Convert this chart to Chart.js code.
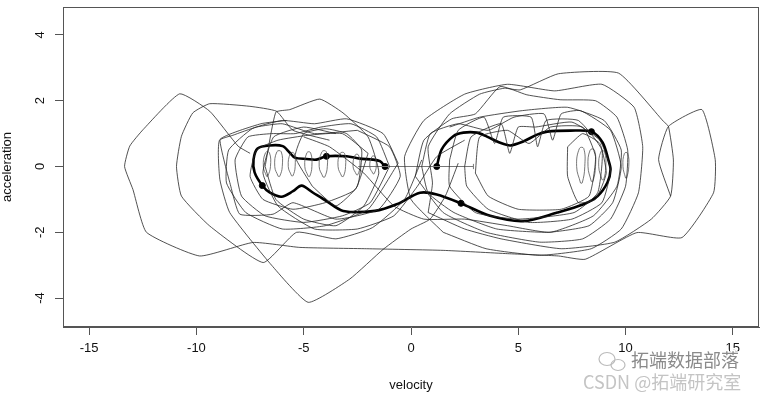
<!DOCTYPE html>
<html>
<head>
<meta charset="utf-8">
<script src="https://cdn.jsdelivr.net/npm/chart.js@4.4.0/dist/chart.umd.min.js"></script>
<style>
  html, body { margin: 0; padding: 0; background: #fff; }
  #wrap { width: 768px; height: 399px; }
</style>
</head>
<body>
<div id="wrap"><canvas id="phase" width="768" height="399"></canvas></div>
<script>
// axis ticks
const xTicks = [-15, -10, -5, 0, 5, 10, 15];
const yTicks = [-4, -2, 0, 2, 4];

// thin trajectories (velocity, acceleration)
const outerLeft = [[-7.5,0.4],[-8.06,0.62],[-9.38,1.68],[-10.78,2.21],[-12.49,1.12],[-13.11,0.62],[-13.35,0.0],[-12.96,-0.7],[-12.33,-2.0],[-9.85,-2.72],[-7.36,-2.31],[-5.18,-2.46],[-2.07,-2.5],[1.5,-2.55],[4.5,-2.65],[6.87,-2.72],[8.12,-2.82],[10.53,-2.01],[12.63,-2.16],[14.1,-0.8],[14.18,0.21],[13.56,1.73],[12.0,1.22],[11.54,0.21],[12.1,-0.9]];
const outerRight = [[0.8,-1.4],[1.0,-0.5],[0.8,0.6],[1.8,1.6],[3.2,2.2],[4.35,2.38],[5.09,2.33],[6.87,2.82],[9.67,2.84],[11.77,1.37],[12.0,1.22],[12.23,0.2],[12.1,-0.9],[11.2,-1.6],[9.5,-2.3],[7.0,-2.5],[4.2,-2.2],[2.5,-1.9],[0.8,-1.4]];
const secondLeft = [[-3.8,0.8],[-5.5,1.1],[-6.27,1.68],[-7.51,1.83],[-9.38,1.91],[-10.17,1.63],[-10.7,0.92],[-10.93,0.0],[-10.7,-0.9],[-9.38,-1.81],[-6.89,-2.92],[-5.33,-2.0],[-3.5,-2.2],[-1.8,-1.86],[-0.3,-1.0],[0.5,0.2]];
const heart = [[-5.8,1.4],[-7.0,1.3],[-8.91,0.82],[-8.91,-0.39],[-8.45,-1.4],[-6.5,-3.0],[-4.79,-4.13],[-2.85,-3.42],[-1.3,-2.52],[0.0,-1.9],[0.89,-1.6],[1.6,-0.9],[2.2,0.1]];
const boxLeft = [[-2.5,1.1],[-4.5,1.0],[-6.0,1.3],[-7.2,1.2],[-8.3,0.95],[-8.9,0.8],[-8.4,-0.6],[-7.98,-1.45],[-6.43,-1.45],[-5.5,-1.1],[-3.5,-1.6],[-1.5,-1.3],[-0.5,-0.3],[-1.0,0.6],[-2.5,1.1]];
const tallLeft = [[-6.8,0.0],[-6.3,1.65],[-5.65,1.73],[-4.25,2.05],[-3.17,1.63],[-2.0,0.9],[-1.5,-0.2],[-2.2,-1.2],[-3.5,-1.8],[-5.0,-1.6],[-6.3,-1.0],[-6.8,0.0]];
const midLeftA = [[-1.0,0.0],[-1.6,0.9],[-2.8,1.3],[-4.2,1.2],[-5.4,1.0],[-6.5,1.0],[-7.6,0.9],[-8.2,0.2],[-7.9,-0.9],[-6.8,-1.5],[-5.0,-1.7],[-3.2,-1.5],[-1.9,-1.1],[-1.0,0.0]];
const midLeftB = [[-0.6,0.1],[-1.3,1.0],[-3.0,1.45],[-4.5,1.3],[-6.0,1.4],[-7.4,1.15],[-8.5,0.5],[-8.6,-0.5],[-7.7,-1.4],[-6.0,-1.9],[-4.0,-1.8],[-2.0,-1.3],[-0.6,0.1]];
const innerLeftA = [[-2.0,0.4],[-3.2,1.0],[-4.8,0.95],[-6.2,0.8],[-7.2,0.5],[-7.5,-0.3],[-6.9,-1.0],[-5.5,-1.3],[-4.0,-1.1],[-2.6,-0.7],[-2.0,0.4]];
const innerLeftB = [[-4.6,-0.6],[-5.4,0.3],[-5.0,1.0],[-4.0,1.15],[-3.0,1.0],[-2.3,0.5],[-2.5,-0.6],[-3.5,-1.2],[-4.6,-0.6]];
const crossA = [[-5.0,0.9],[-3.8,0.6],[-2.2,-0.2],[-0.8,-1.2],[0.6,-1.6],[2.5,-1.6],[4.5,-1.8],[6.5,-2.0],[8.5,-1.5],[9.6,-0.6],[9.8,0.5],[9.0,1.4],[7.3,1.8],[5.2,1.7],[3.2,1.5],[1.8,1.2]];
const crossB = [[2.5,0.8],[1.2,0.3],[0.3,-0.6],[-0.8,-1.5],[-2.5,-1.9],[-4.5,-1.9],[-6.2,-1.2],[-6.9,-0.2],[-6.4,0.9],[-5.0,1.2],[-3.5,1.0]];
const rightA = [[0.2,-0.3],[0.6,0.8],[1.9,1.45],[3.0,1.6],[4.15,2.43],[5.4,2.18],[6.95,2.03],[8.6,2.0],[9.6,1.5],[10.1,0.5],[10.0,-0.6],[9.3,-1.6],[8.0,-2.2],[6.0,-2.3],[3.5,-2.0],[1.5,-1.4],[0.2,-0.3]];
const rightB = [[0.5,0.0],[0.9,1.0],[2.2,1.3],[3.6,1.1],[4.8,1.5],[6.2,1.6],[6.6,0.8],[7.0,1.6],[7.9,1.7],[9.3,1.1],[9.8,0.0],[9.4,-1.1],[8.3,-1.8],[6.4,-2.0],[4.0,-1.9],[2.0,-1.4],[0.8,-0.8],[0.5,0.0]];
const rightC = [[2.5,0.0],[2.8,0.9],[4.2,1.3],[4.6,0.4],[5.0,1.2],[5.8,1.2],[7.5,1.35],[8.8,0.8],[9.3,-0.1],[8.9,-1.1],[7.5,-1.6],[5.5,-1.7],[3.6,-1.3],[2.6,-0.6],[2.5,0.0]];
const rightD = [[1.5,-2.0],[0.0,-1.0],[-0.3,0.3],[0.6,1.4],[2.5,2.2],[4.5,2.5],[6.7,2.3],[8.9,2.5],[10.4,1.8],[10.8,0.6],[10.6,-0.8],[9.8,-1.9],[8.4,-2.5],[6.0,-2.7],[3.5,-2.5],[1.5,-2.0]];
const rightE = [[7.3,0.6],[8.0,1.0],[8.8,0.7],[9.1,-0.2],[8.6,-1.0],[7.8,-1.1],[7.3,-0.3],[7.3,0.6]];
const rightF = [[1.8,0.2],[2.2,1.1],[3.4,1.5],[3.9,0.7],[4.3,1.5],[5.6,1.5],[5.9,0.6],[6.3,1.4],[7.8,1.4],[8.9,0.5],[8.7,-0.8],[7.6,-1.4],[5.0,-1.6],[3.0,-1.4],[1.8,-0.6],[1.8,0.2]];
const rightG = [[3.0,-0.2],[3.2,0.9],[4.5,1.1],[5.5,0.7],[6.5,1.2],[8.0,1.2],[8.6,0.3],[8.3,-0.9],[7.0,-1.3],[5.0,-1.3],[3.6,-0.9],[3.0,-0.2]];

// narrow loops in the two lobes
const smallLoops = [
  [[-6.73,-0.3],[-6.88,0.0],[-6.78,0.42],[-6.6,0.42],[-6.55,0.0],[-6.68,-0.3]],
  [[-6.19,-0.3],[-6.35,0.0],[-6.25,0.45],[-6.05,0.45],[-6.0,0.0],[-6.12,-0.3]],
  [[-5.57,-0.28],[-5.72,0.0],[-5.62,0.4],[-5.45,0.4],[-5.4,0.0],[-5.5,-0.28]],
  [[-4.79,-0.3],[-4.95,0.0],[-4.85,0.42],[-4.68,0.42],[-4.62,0.0],[-4.72,-0.3]],
  [[-4.1,-0.32],[-4.28,0.0],[-4.15,0.45],[-3.95,0.45],[-3.9,0.0],[-4.02,-0.32]],
  [[-3.23,-0.3],[-3.4,0.0],[-3.3,0.4],[-3.1,0.4],[-3.05,0.0],[-3.15,-0.3]],
  [[-2.54,-0.25],[-2.7,0.0],[-2.6,0.35],[-2.45,0.35],[-2.38,0.0],[-2.48,-0.25]],
  [[-1.77,-0.22],[-1.92,0.0],[-1.82,0.3],[-1.68,0.3],[-1.62,0.0],[-1.72,-0.22]],
  [[7.9,-0.5],[7.72,0.0],[7.85,0.55],[8.05,0.55],[8.1,0.0],[7.98,-0.5]],
  [[8.4,-0.45],[8.25,0.0],[8.35,0.5],[8.55,0.5],[8.6,0.0],[8.48,-0.45]],
  [[8.9,-0.4],[8.75,0.0],[8.85,0.45],[9.02,0.45],[9.08,0.0],[8.98,-0.4]],
  [[10.0,-0.35],[9.88,0.0],[9.95,0.4],[10.1,0.4],[10.15,0.0],[10.05,-0.35]]
];

// straight segment through the origin
const baseLine = [[-2.46,0.0],[2.91,0.0]];
const baseTick = [[2.91,-0.08],[2.91,0.08]];

// mean trajectory (thick) and its marked points
const meanPath = [[1.2,0.0],[1.43,0.52],[1.97,0.92],[2.44,1.03],[3.07,1.03],[3.54,0.91],[4.16,0.72],[4.63,0.64],[5.23,0.76],[5.88,0.97],[6.35,1.06],[7.43,1.09],[8.41,1.06],[8.93,0.73],[9.2,0.2],[9.3,-0.09],[9.16,-0.48],[8.7,-0.9],[8.04,-1.15],[6.82,-1.4],[5.24,-1.66],[3.69,-1.5],[2.33,-1.12],[1.2,-0.85],[0.42,-0.8],[-0.67,-1.15],[-1.68,-1.35],[-3.16,-1.35],[-3.94,-1.05],[-4.58,-0.79],[-5.1,-0.58],[-5.5,-0.75],[-6.04,-0.92],[-6.59,-0.79],[-6.93,-0.58],[-7.29,-0.18],[-7.34,0.21],[-7.15,0.55],[-6.59,0.64],[-5.98,0.62],[-5.65,0.42],[-5.42,0.27],[-4.87,0.23],[-4.41,0.21],[-3.94,0.31],[-3.0,0.31],[-2.38,0.24],[-1.77,0.21],[-1.45,0.16],[-1.21,0.0]];
const meanDots = [[1.2,0.0],[8.41,1.06],[2.33,-1.12],[-6.93,-0.58],[-3.94,0.31],[-1.21,0.0]];

const toXY = pts => pts.map(([x, y]) => ({ x, y }));

const thinCurves = [outerLeft, outerRight, secondLeft, heart, boxLeft, tallLeft, midLeftA, midLeftB,
  innerLeftA, innerLeftB, crossA, crossB, rightA, rightB, rightC, rightD, rightE, rightF, rightG];

const datasets = [];
thinCurves.forEach(c => datasets.push({
  data: toXY(c), borderColor: "#262626", borderWidth: 0.8, pointRadius: 0, tension: 0.15, showLine: true
}));
smallLoops.forEach(c => datasets.push({
  data: toXY(c.concat([c[0]])), borderColor: "#555", borderWidth: 0.8, pointRadius: 0, tension: 0.45, showLine: true
}));
datasets.push({ data: toXY(baseLine), borderColor: "#777", borderWidth: 1, pointRadius: 0, showLine: true });
datasets.push({ data: toXY(baseTick), borderColor: "#777", borderWidth: 1, pointRadius: 0, showLine: true });
datasets.push({ data: toXY(meanPath), borderColor: "#000", borderWidth: 2.6, pointRadius: 0, tension: 0.3, showLine: true });
datasets.push({ data: toXY(meanDots), borderColor: "#000", backgroundColor: "#000", pointRadius: 3, showLine: false });

const FONT = "'Liberation Sans', Arial, sans-serif";

const frameAndMark = {
  id: "frameAndMark",
  afterDraw(chart) {
    const { ctx, chartArea: a } = chart;
    ctx.save();
    ctx.strokeStyle = "#555";
    ctx.lineWidth = 1;
    ctx.strokeRect(a.left + 0.5, a.top + 0.5, a.right - a.left - 1, a.bottom - a.top - 1);

    // watermark
    ctx.strokeStyle = "#bbb";
    ctx.lineWidth = 1.2;
    ctx.beginPath(); ctx.ellipse(607, 359, 8, 6.5, 0, 0, Math.PI * 2); ctx.stroke();
    ctx.beginPath(); ctx.ellipse(618, 365, 7, 5.5, 0, 0, Math.PI * 2); ctx.stroke();
    ctx.font = "18px 'Noto Sans CJK SC', sans-serif";
    ctx.textBaseline = "middle";
    ctx.textAlign = "left";
    ctx.lineWidth = 3;
    ctx.strokeStyle = "#fff";
    ctx.strokeText("拓端数据部落", 631, 360);
    ctx.fillStyle = "#8a8a8a";
    ctx.fillText("拓端数据部落", 631, 360);
    ctx.fillStyle = "#c4c4c4";
    ctx.fillText("CSDN @拓端研究室", 583, 382);
    ctx.restore();
  }
};

const noEdgePad = s => { s.paddingTop = 0; s.paddingBottom = 0; s.paddingLeft = 0; s.paddingRight = 0; };

new Chart(document.getElementById("phase"), {
  type: "scatter",
  data: { datasets },
  options: {
    responsive: false,
    animation: false,
    devicePixelRatio: 1,
    layout: { padding: { top: 7, right: 9, left: 0, bottom: 0 } },
    plugins: { legend: { display: false }, tooltip: { enabled: false } },
    scales: {
      x: {
        type: "linear", min: -16.22, max: 16.22,
        afterBuildTicks: s => { s.ticks = xTicks.map(v => ({ value: v })); },
        afterFit: s => { s.height = 72; noEdgePad(s); },
        grid: { drawOnChartArea: false, drawTicks: true, tickLength: 8, color: "#555" },
        border: { display: true, color: "#555" },
        ticks: { color: "#111", font: { family: FONT, size: 13 }, padding: 6, maxRotation: 0 },
        title: { display: true, text: "velocity", color: "#111", font: { family: FONT, size: 13 }, padding: { top: 0, bottom: 6 } }
      },
      y: {
        type: "linear", min: -4.88, max: 4.85,
        afterBuildTicks: s => { s.ticks = yTicks.map(v => ({ value: v })); },
        afterFit: s => { s.width = 63; noEdgePad(s); },
        grid: { drawOnChartArea: false, drawTicks: true, tickLength: 8, color: "#555" },
        border: { display: true, color: "#555" },
        ticks: { color: "#111", font: { family: FONT, size: 13 }, padding: 9, minRotation: 90, maxRotation: 90, crossAlign: "center" },
        title: { display: true, text: "acceleration", color: "#111", font: { family: FONT, size: 13 }, padding: { top: 0, bottom: 0 } }
      }
    }
  },
  plugins: [frameAndMark]
});
</script>
</body>
</html>
